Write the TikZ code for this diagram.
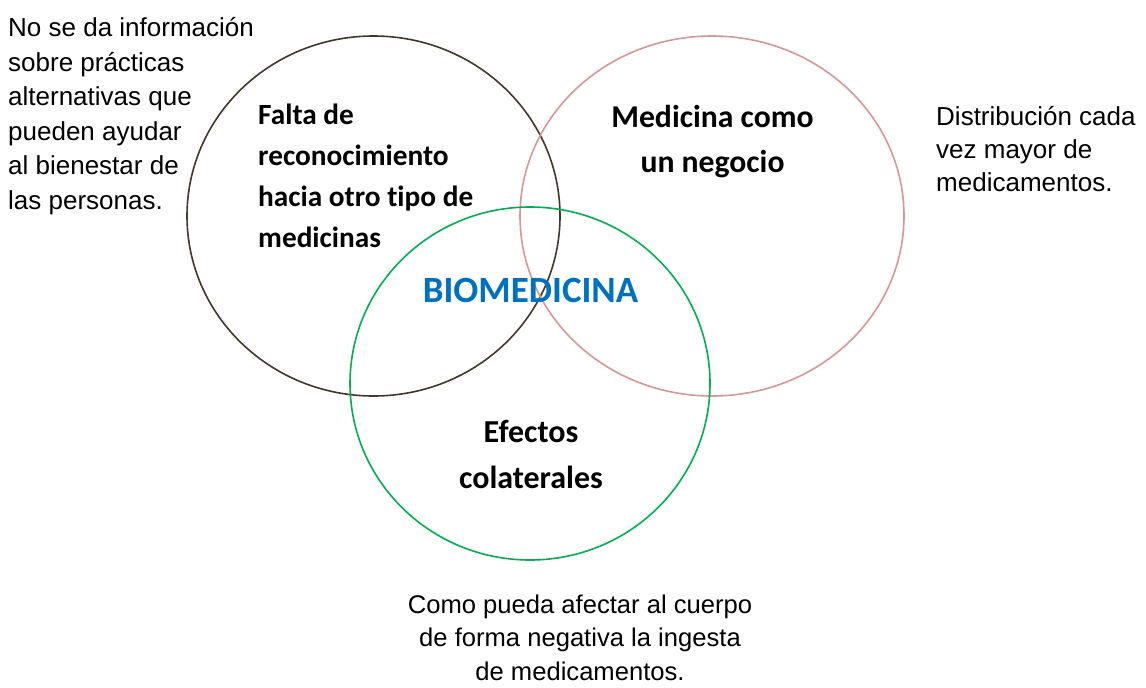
\documentclass[tikz,border=0pt]{standalone}
\usepackage{fontspec}
\setmainfont{Liberation Sans}
\newfontfamily\calib[Ligatures=NoCommon]{Carlito}
\usetikzlibrary{shapes.geometric}
\definecolor{cbrown}{RGB}{64,56,40}
\definecolor{cpink}{RGB}{217,150,148}
\definecolor{cgreen}{RGB}{0,176,80}
\definecolor{cblue}{RGB}{0,112,192}
\begin{document}
\begin{tikzpicture}[x=1pt,y=-1pt,
  ring/.style={draw, ellipse, line width=1.6pt, inner sep=0pt},
  note/.style={inner sep=0pt, font=\fontsize{26}{34.5}\selectfont},
  head/.style={inner sep=0pt, font=\calib\bfseries\fontsize{29.3}{41}\selectfont}]
\useasboundingbox (0,0) rectangle (1146,688);
\node[ring, cbrown, minimum width=373pt, minimum height=360pt] (c1) at (373.5,216) {};
\node[ring, cpink, minimum width=384pt, minimum height=360pt] (c2) at (712,216) {};
\node[ring, cgreen, minimum width=360pt, minimum height=353pt] (c3) at (530,383.5) {};
\node[head, align=left, anchor=base west] (t1) at (258,247) {Falta de\\reconocimiento\\hacia otro tipo de\\medicinas};
\node[head, align=center, anchor=base, font=\calib\bfseries\fontsize{31.7}{45}\selectfont] (t2) at (712.5,172) {Medicina como\\un negocio};
\node[head, align=center, anchor=base, font=\calib\bfseries\fontsize{32}{46}\selectfont] (t3) at (531,488) {Efectos\\colaterales};
\node[inner sep=0pt, anchor=base, text=cblue, font=\calib\bfseries\fontsize{37}{40}\selectfont] (bio) at (530.5,302) {BIOMEDICINA};
\node[note, align=left, anchor=base west] (n1) at (8,209) {No se da información\\sobre prácticas\\alternativas que\\pueden ayudar\\al bienestar de\\las personas.};
\node[note, align=left, anchor=base west, font=\fontsize{26}{33}\selectfont] (n2) at (936,191) {Distribución cada\\vez mayor de\\medicamentos.};
\node[note, align=center, anchor=base, font=\fontsize{25.6}{33.5}\selectfont] (n3) at (580,680) {Como pueda afectar al cuerpo\\de forma negativa la ingesta\\de medicamentos.};
\end{tikzpicture}
\end{document}
